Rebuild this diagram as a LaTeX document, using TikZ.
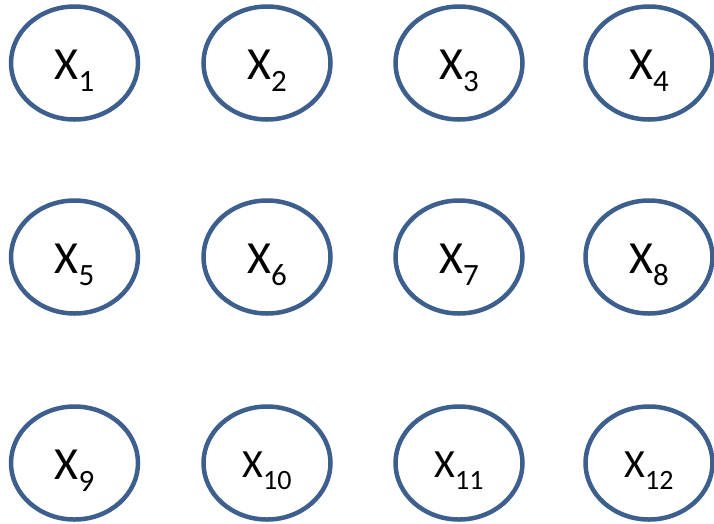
\documentclass[tikz,border=0pt]{standalone}
\usepackage{fontspec}
\setmainfont{Carlito}
\usetikzlibrary{shapes.geometric}

\definecolor{ovalblue}{HTML}{3D5F8D}

% labels: big X with a lowered index
\newcommand{\varlab}[1]{\fontsize{46}{46}\selectfont X\raisebox{-12pt}{\fontsize{31}{31}\selectfont #1}}
\newcommand{\varlabsmall}[1]{\fontsize{40}{40}\selectfont X\raisebox{-12pt}{\fontsize{28}{28}\selectfont #1}}

\tikzset{
  var/.style={ellipse, draw=ovalblue, line width=4.5pt, fill=white,
    minimum width=127pt, minimum height=113pt, inner sep=0pt,
    text height=33pt, text depth=0pt},
  varsmall/.style={var, text height=28pt}
}

\begin{document}
\begin{tikzpicture}[x=1pt,y=-1pt]

  \useasboundingbox (0,0) rectangle (714,523);

  % Row 1
  \node[var] (x1) at (74.5,63) {\varlab{1}};
  \node[var] (x2) at (267,63) {\varlab{2}};
  \node[var] (x3) at (459,63) {\varlab{3}};
  \node[var] (x4) at (649,63) {\varlab{4}};

  % Row 2
  \node[var] (x5) at (74.5,257) {\varlab{5}};
  \node[var] (x6) at (267,257) {\varlab{6}};
  \node[var] (x7) at (459,257) {\varlab{7}};
  \node[var] (x8) at (649,257) {\varlab{8}};

  % Row 3
  \node[var] (x9) at (74.5,463) {\varlab{9}};
  \node[varsmall] (x10) at (267,463) {\varlabsmall{10}};
  \node[varsmall] (x11) at (459,463) {\varlabsmall{11}};
  \node[varsmall] (x12) at (649,463) {\varlabsmall{12}};

\end{tikzpicture}
\end{document}
